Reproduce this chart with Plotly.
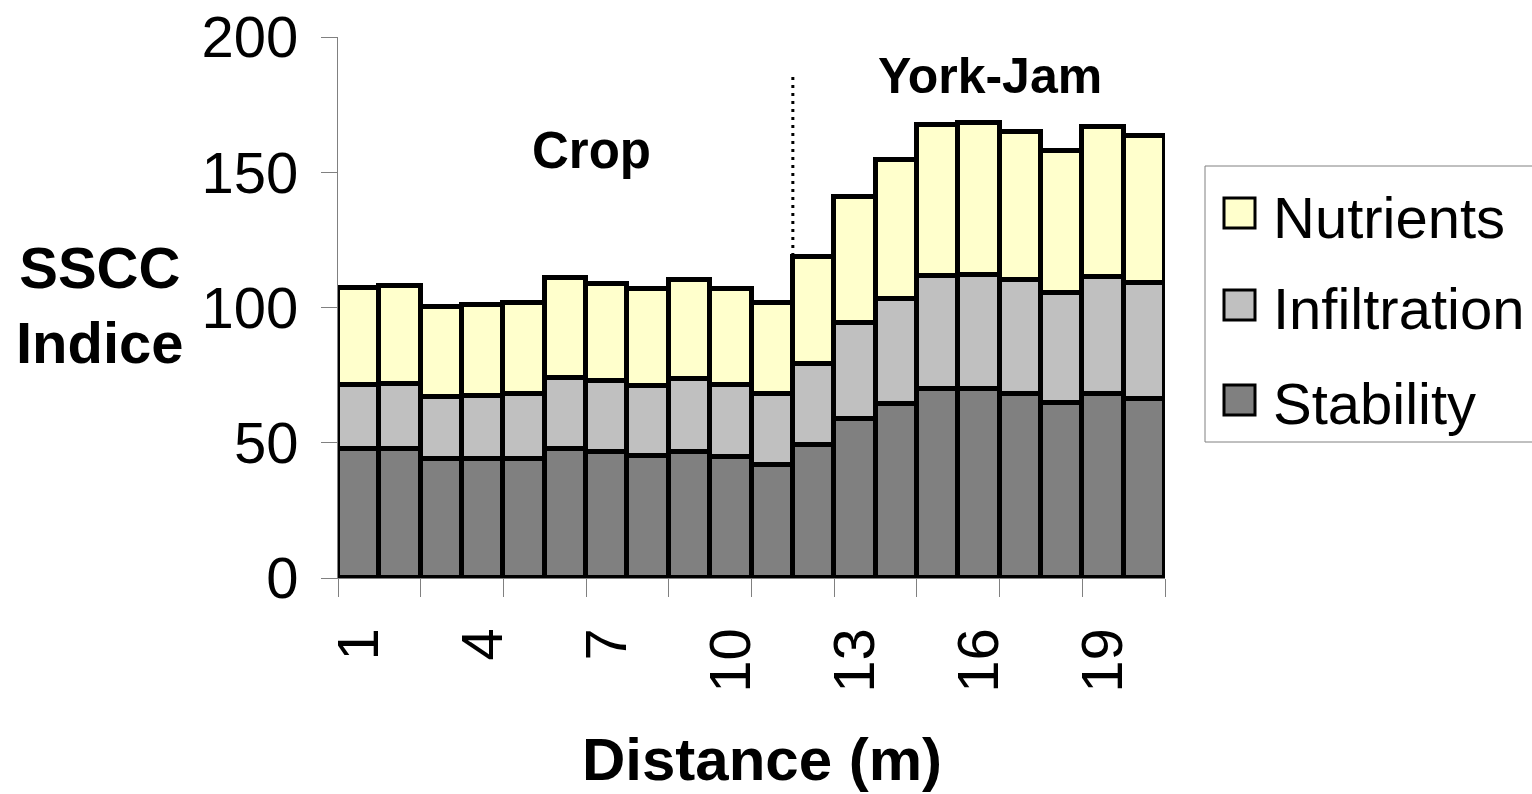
import plotly.graph_objects as go

# Soil condition index components along the transect (1 m steps)
distance_m = [1, 2, 3, 4, 5, 6, 7, 8, 9, 10, 11, 12, 13, 14, 15, 16, 17, 18, 19, 20]
stability = [47.8, 47.8, 43.9, 43.9, 43.9, 47.8, 46.5, 45.2, 46.5, 44.6,
             41.9, 49.2, 58.7, 64.4, 70.0, 70.0, 68.1, 64.6, 68.1, 66.3]
infiltration = [23.5, 24.0, 23.0, 23.5, 24.1, 26.1, 26.3, 25.9, 26.9, 26.7,
                26.1, 29.9, 35.7, 38.7, 41.6, 42.1, 42.1, 40.6, 43.2, 42.8]
nutrients = [36.0, 36.2, 33.4, 33.6, 33.5, 37.0, 35.9, 35.7, 36.8, 35.5,
             33.5, 39.7, 46.6, 51.4, 56.0, 56.2, 54.8, 52.8, 55.3, 54.3]

tick_positions = [1, 4, 7, 10, 13, 16, 19]
tick_labels = ["1", "4", "7", "10", "13", "16", "19"]
y_ticks = [0, 50, 100, 150, 200]

series = [
    ("Stability", stability, "#808080"),
    ("Infiltration", infiltration, "#C0C0C0"),
    ("Nutrients", nutrients, "#FFFFCC"),
]

W, H = 1532, 794
L, R, T, B = 338, 1165, 37, 578   # plot area in pixels
FONT = "Liberation Sans, Arial, sans-serif"


def px_x(x):
    return (x - L) / (R - L)


def px_y(y):
    return (B - y) / (B - T)


fig = go.Figure()
for name, vals, color in series:
    fig.add_trace(go.Bar(
        x=distance_m, y=vals, name=name,
        marker=dict(color=color, line=dict(color="black", width=5)),
        showlegend=False,
    ))

shapes = []
# Boundary between the crop field and the York-Jam strip
shapes.append(dict(type="line", xref="x", yref="y", x0=11.5, x1=11.5, y0=80.6, y1=186,
                   line=dict(color="black", width=3, dash="3px,5px"), layer="above"))

# Legend frame, swatches and labels
shapes.append(dict(type="rect", xref="paper", yref="paper",
                   x0=px_x(1205), x1=px_x(1545), y0=px_y(442), y1=px_y(166),
                   line=dict(color="#808080", width=1), fillcolor="white", layer="above"))
legend_rows = [("Nutrients", "#FFFFCC", 213), ("Infiltration", "#C0C0C0", 305), ("Stability", "#808080", 400)]
annotations = []
for label, color, cy in legend_rows:
    shapes.append(dict(type="rect", xref="paper", yref="paper",
                       x0=px_x(1224), x1=px_x(1255), y0=px_y(cy + 15), y1=px_y(cy - 15),
                       line=dict(color="black", width=3), fillcolor=color, layer="above"))
    annotations.append(dict(text=label, xref="paper", yref="paper", x=px_x(1271), y=px_y(cy + 4),
                            xanchor="left", yanchor="middle", showarrow=False,
                            font=dict(family=FONT, size=58, color="black")))

annotations += [
    dict(text="<b>Crop</b>", xref="paper", yref="paper", x=px_x(591), y=px_y(150),
         xanchor="center", yanchor="middle", showarrow=False,
         font=dict(family=FONT, size=51, color="black")),
    dict(text="<b>York-Jam</b>", xref="paper", yref="paper", x=px_x(990), y=px_y(76),
         xanchor="center", yanchor="middle", showarrow=False,
         font=dict(family=FONT, size=50, color="black")),
    dict(text="<b>SSCC<br>Indice</b>", xref="paper", yref="paper", x=px_x(100), y=px_y(305),
         xanchor="center", yanchor="middle", showarrow=False,
         font=dict(family=FONT, size=58, color="black")),
    dict(text="<b>Distance (m)</b>", xref="paper", yref="paper", x=px_x(762), y=px_y(759),
         xanchor="center", yanchor="middle", showarrow=False,
         font=dict(family=FONT, size=60, color="black")),
]

fig.update_layout(
    width=W, height=H,
    margin=dict(l=L, r=W - R, t=T, b=H - B, pad=0, autoexpand=False),
    paper_bgcolor="white", plot_bgcolor="white",
    barmode="stack", bargap=0,
    shapes=shapes, annotations=annotations,
    font=dict(family=FONT, color="black"),
)
fig.update_xaxes(
    range=[0.5, 20.5], showgrid=False, zeroline=False, automargin=False,
    showline=True, linecolor="#808080", linewidth=1,
    tickmode="array", tickvals=tick_positions, ticktext=tick_labels,
    ticks="", tickangle=-90, tickfont=dict(family=FONT, size=58, color="black"),
    ticklabelstandoff=26,
    minor=dict(tickmode="linear", tick0=0.5, dtick=2, ticks="outside",
               ticklen=18, tickcolor="#808080", tickwidth=1),
)
fig.update_yaxes(
    range=[0, 200], showgrid=False, zeroline=False, automargin=False,
    showline=True, linecolor="#808080", linewidth=1,
    tickmode="array", tickvals=y_ticks,
    ticks="outside", ticklen=16, tickcolor="#808080", tickwidth=1,
    tickfont=dict(family=FONT, size=58, color="black"),
    ticklabelstandoff=11,
)

fig.write_html("out.html")
